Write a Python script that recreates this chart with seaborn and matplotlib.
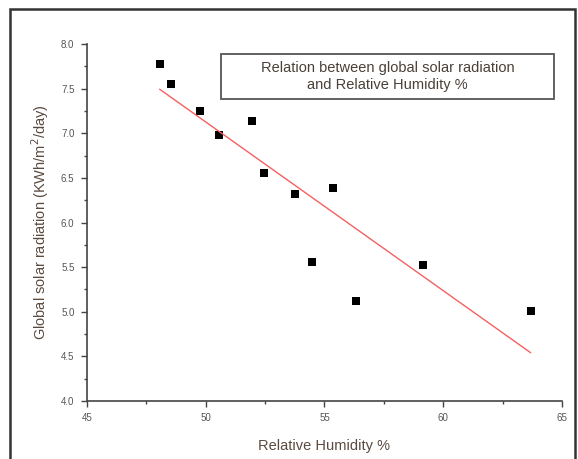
import matplotlib
matplotlib.use("Agg")
import matplotlib.pyplot as plt
from matplotlib.patches import Rectangle
from matplotlib.ticker import MultipleLocator
import pandas as pd
import seaborn as sns

# values
humidity = [48.06, 48.55, 49.76, 50.57, 51.95, 52.46, 53.77, 54.48, 55.36, 56.34, 59.15, 63.68]
radiation = [7.78, 7.55, 7.25, 6.98, 7.14, 6.56, 6.32, 5.56, 6.39, 5.12, 5.52, 5.01]
x_ticks = [45, 50, 55, 60, 65]
y_ticks = [4.0, 4.5, 5.0, 5.5, 6.0, 6.5, 7.0, 7.5, 8.0]

df = pd.DataFrame({"rh": humidity, "gsr": radiation})

sns.set_theme(style="ticks")
plt.rcParams["font.family"] = ["Liberation Sans", "DejaVu Sans"]

fig = plt.figure(figsize=(5.78, 4.59), dpi=100)
ax = fig.add_axes([0.1505, 0.1264, 0.8218, 0.7776])

sns.regplot(data=df, x="rh", y="gsr", ax=ax, ci=None, truncate=True, marker="s",
            scatter_kws=dict(s=26, color="black", alpha=1, linewidths=0),
            line_kws=dict(color="#f46060", linewidth=1.0))

ax.set_xlim(45, 65)
ax.set_ylim(4.0, 8.0)
ax.set_xticks(x_ticks)
ax.set_yticks(y_ticks)
ax.set_xticklabels([str(t) for t in x_ticks])
ax.set_yticklabels([f"{t:.1f}" for t in y_ticks])
ax.xaxis.set_minor_locator(MultipleLocator(2.5))
ax.yaxis.set_minor_locator(MultipleLocator(0.25))
ax.tick_params(which="major", length=4, width=1, color="#444444",
               labelsize=7, labelcolor="#555555", pad=5)
ax.tick_params(which="minor", length=2.5, width=1, color="#444444")
for side in ("left", "bottom"):
    ax.spines[side].set_color("#444444")
    ax.spines[side].set_linewidth(1.2)
sns.despine(ax=ax)

ax.set_xlabel("Relative Humidity %", fontsize=10.5, color="#5a4a40", labelpad=11)
ax.set_ylabel("Global solar radiation (KWh/m$^2$/day)", fontsize=10.5,
              color="#5a4a40", labelpad=7)

# annotation box
ax.add_patch(Rectangle((0.282, 0.846), 0.701, 0.126, transform=ax.transAxes,
                       fill=False, edgecolor="#555555", linewidth=1.3,
                       clip_on=False))
ax.text(0.633, 0.909, "Relation between global solar radiation\nand Relative Humidity %",
        transform=ax.transAxes, ha="center", va="center", fontsize=10.5,
        color="#4a4038", linespacing=1.3)

# outer frame of the original figure (cut off at the bottom)
fig.patches.append(Rectangle((10 / 578, -0.1), 565 / 578, 1.1 - 9 / 459,
                             transform=fig.transFigure, fill=False,
                             edgecolor="#333333", linewidth=1.8))

fig.savefig("out.png", dpi=100)
